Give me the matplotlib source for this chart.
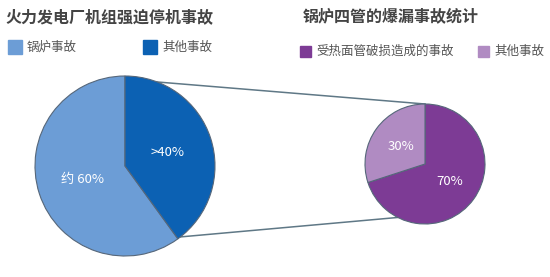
import numpy as np
import matplotlib.pyplot as plt

plt.rcParams['font.family'] = ['Noto Sans CJK SC', 'DejaVu Sans']

# left pie: 火力发电厂机组强迫停机事故
left_title = '火力发电厂机组强迫停机事故'
left_labels = ['锅炉事故', '其他事故']
left_values = [60, 40]
left_texts = ['约 60%', '>40%']
left_colors = ['#6c9dd6', '#0c61b3']

# right pie: 锅炉四管的爆漏事故统计
right_title = '锅炉四管的爆漏事故统计'
right_labels = ['受热面管破损造成的事故', '其他事故']
right_values = [70, 30]
right_texts = ['70%', '30%']
right_colors = ['#7d3b95', '#b08bc2']

H = 277
fig = plt.figure(figsize=(5.5, 2.77), dpi=100)
ax = fig.add_axes([0, 0, 1, 1])

lc, lr = (125, H - 166), 90
rc, rr = (425, H - 164), 60


def edge_point(c, r, deg):
    a = np.deg2rad(deg)
    return c[0] + r * np.cos(a), c[1] + r * np.sin(a)


# connecting lines (drawn first so pies sit on top)
for a1, a2 in [(69, 90), (-52, -117)]:
    p1 = edge_point(lc, lr, a1)
    p2 = edge_point(rc, rr, a2)
    ax.plot([p1[0], p2[0]], [p1[1], p2[1]], color='#5f7886', lw=1.1, zorder=1)

wp = dict(edgecolor='#56677a', linewidth=0.8)
_, _, lt = ax.pie(left_values, colors=left_colors, startangle=90, counterclock=True,
                  center=lc, radius=lr, wedgeprops=wp, frame=True,
                  autopct=lambda p: '', pctdistance=0.5)
for t, s in zip(lt, left_texts):
    t.set_text(s)
    t.set_color('white')
    t.set_fontsize(9.5)

_, _, rt = ax.pie(right_values, colors=right_colors, startangle=90, counterclock=False,
                  center=rc, radius=rr, wedgeprops=wp, frame=True,
                  autopct=lambda p: '', pctdistance=0.5)
for t, s in zip(rt, right_texts):
    t.set_text(s)
    t.set_color('white')
    t.set_fontsize(9.5)

ax.set_xlim(0, 550)
ax.set_ylim(0, H)
ax.set_aspect('equal')
ax.axis('off')

# titles
ax.text(5, H - 17, left_title, fontsize=11.5, fontweight='bold', color='#444444',
        va='center', ha='left')
ax.text(303, H - 17, right_title, fontsize=11.5, fontweight='bold', color='#444444',
        va='center', ha='left')

# legends
def legend_item(x, y, color, label, size=14):
    ax.add_patch(plt.Rectangle((x, H - y - size / 2), size, size, color=color))
    ax.text(x + size + 5, H - y, label, fontsize=9, color='#555555', va='center', ha='left')

legend_item(8, 47, left_colors[0], left_labels[0])
legend_item(143, 47, left_colors[1], left_labels[1])
legend_item(300, 51, right_colors[0], right_labels[0], size=11)
legend_item(478, 51, right_colors[1], right_labels[1], size=11)

fig.savefig('out.png', dpi=100)
